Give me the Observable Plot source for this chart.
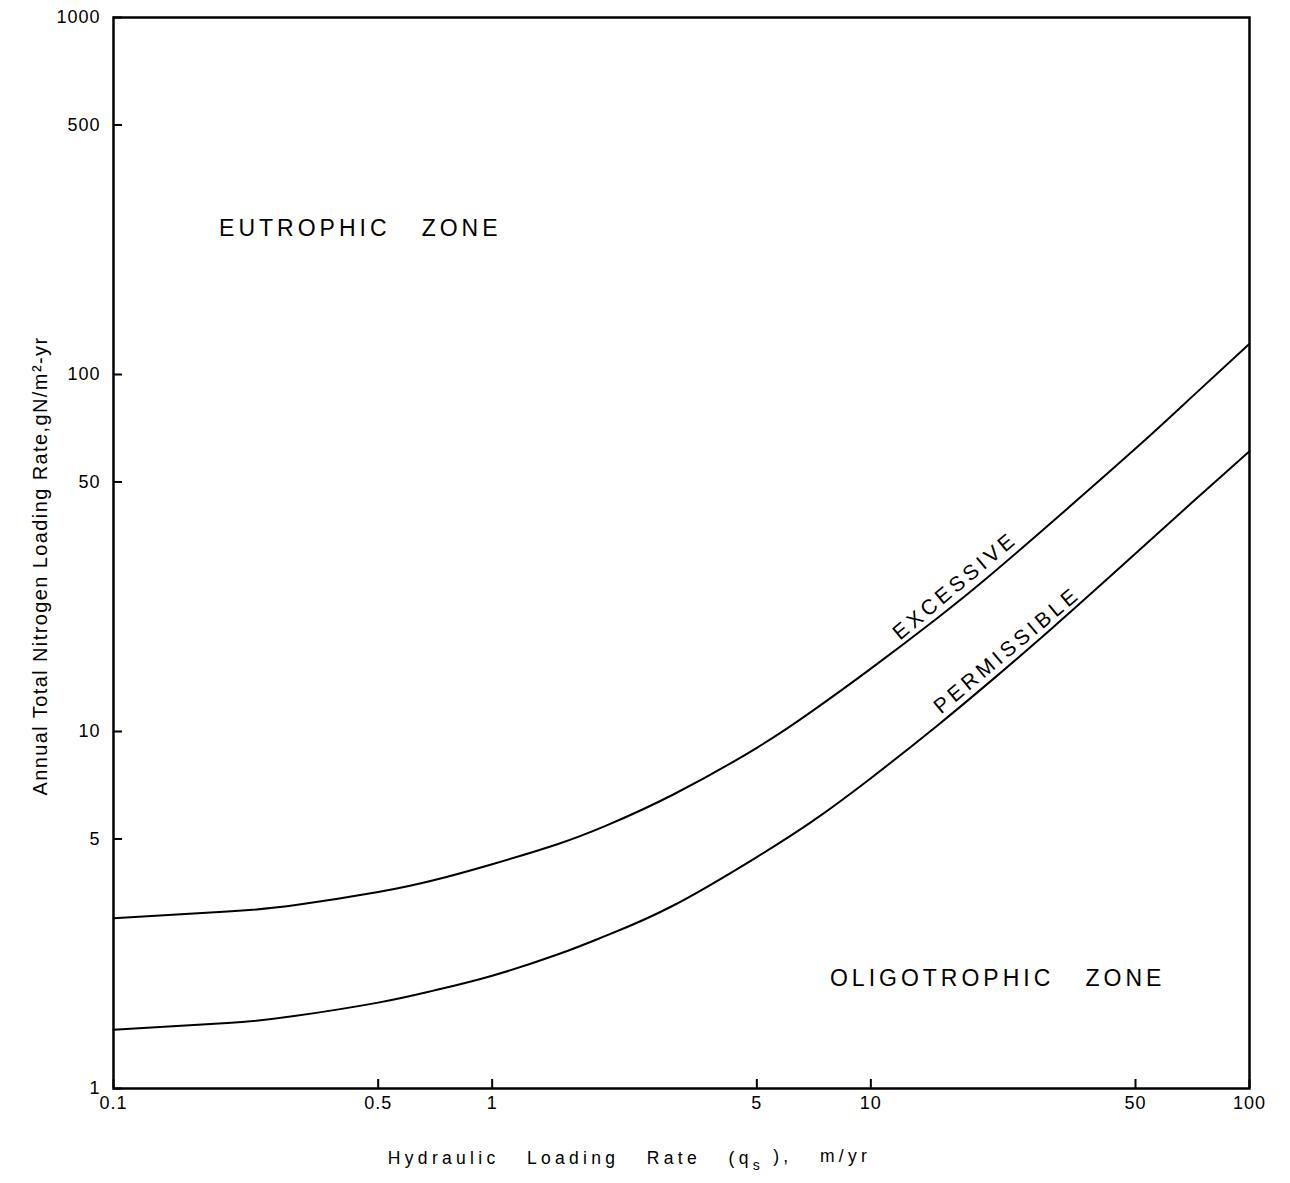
<!DOCTYPE html>
<html><head><meta charset="utf-8">
<script src="https://cdn.jsdelivr.net/npm/d3@7"></script>
<script src="https://cdn.jsdelivr.net/npm/@observablehq/plot@0.6"></script>
<style>
body{margin:0;background:#fff;}
svg text{white-space:pre;}
</style></head><body><div id="chart"></div>
<script>
const qs = [0.1,0.2,0.3,0.5,0.7,1,1.5,2,3,5,7,10,15,20,30,50,70,100];
const excessive = [3.0,3.13,3.26,3.55,3.83,4.25,4.85,5.45,6.65,9.0,11.4,15.0,20.8,26.6,38.5,62,86,122];
const permissible = [1.46,1.525,1.595,1.74,1.88,2.07,2.38,2.68,3.25,4.45,5.6,7.4,10.4,13.4,19.4,31.5,43.5,61];
const xTicks = [0.1,0.5,1,5,10,50,100];
const xTickLabels = ["0.1","0.5","1","5","10","50","100"];
const yTicks = [1,5,10,50,100,500,1000];
const yTickLabels = ["1","5","10","50","100","500","1000"];
const curveLabels = ["EXCESSIVE","PERMISSIBLE"];
const curveLabelQs = [16.7, 22.9];
const curveLabelLoad = [25.6, 16.9];
const zoneLabels = ["EUTROPHIC   ZONE","OLIGOTROPHIC   ZONE"];
const zoneLabelQs = [0.19, 7.8];
const zoneLabelLoad = [256, 2.03];
const xTitle = "Hydraulic   Loading   Rate   (q";
const xTitleSub = "s";
const xTitleEnd = " ),   m/yr";
const yTitle = "Annual Total Nitrogen Loading Rate,gN/m²-yr";

const rows = [];
qs.forEach((q,i)=>{
  rows.push({series:"Excessive", q, load: excessive[i]});
  rows.push({series:"Permissible", q, load: permissible[i]});
});
const curveLab = curveLabels.map((t,i)=>({t, q: curveLabelQs[i], load: curveLabelLoad[i]}));
const zoneLab = zoneLabels.map((t,i)=>({t, q: zoneLabelQs[i], load: zoneLabelLoad[i]}));

const chart = Plot.plot({
  width: 1290, height: 1183,
  marginLeft: 113, marginRight: 41, marginTop: 17, marginBottom: 95,
  style: {fontFamily: "'Liberation Sans', Arial, sans-serif", background: "#fff", color: "#000"},
  x: {type: "log", domain: [0.1, 100]},
  y: {type: "log", domain: [1, 1000]},
  marks: [
    Plot.axisX({ticks: xTicks, tickFormat: () => "", tickSize: -9, strokeWidth: 2, label: null}),
    Plot.axisY({ticks: yTicks, tickFormat: () => "", tickSize: -9, strokeWidth: 2, label: null}),
    Plot.text(xTicks, {x: d => d, text: (d, i) => xTickLabels[i], frameAnchor: "bottom", dy: 20, fontSize: 18, fill: "#000"}),
    Plot.text(yTicks, {y: d => d, text: (d, i) => yTickLabels[i], frameAnchor: "left", dx: -13, textAnchor: "end", fontSize: 18, fill: "#000"}),
    Plot.line(rows, {x: "q", y: "load", z: "series", stroke: "#000", strokeWidth: 2, curve: "natural"}),
    Plot.text(curveLab, {x: "q", y: "load", text: "t", rotate: -40, fontSize: 21, textAnchor: "middle", fill: "#000"}),
    Plot.text(zoneLab, {x: "q", y: "load", text: "t", fontSize: 23, textAnchor: "start", fill: "#000"}),
    Plot.text([xTitle], {frameAnchor: "bottom", dy: 75, dx: -52, text: d => d, fontSize: 17.5, textAnchor: "middle", fill: "#000"}),
    Plot.text([yTitle], {frameAnchor: "left", dx: -73, dy: 13, rotate: -90, text: d => d, fontSize: 20, textAnchor: "middle", fill: "#000"}),
    Plot.frame({stroke: "#000", strokeWidth: 2.5})
  ]
});
document.getElementById("chart").append(chart);

const sel = d3.select(chart);
sel.selectAll("text").each(function(){
  const t = this.textContent;
  const s = d3.select(this);
  if (t === xTitle) {
    s.text(null).style("letter-spacing", "4.3px");
    s.append("tspan").text(xTitle);
    s.append("tspan").attr("dy", "0.45em").attr("font-size", 14).text(xTitleSub);
    s.append("tspan").attr("dy", "-0.45em").text(xTitleEnd);
  } else if (curveLabels.includes(t)) {
    s.style("letter-spacing", "4px");
  } else if (zoneLabels.includes(t)) {
    s.style("letter-spacing", "4px");
  } else if (t === yTitle) {
    s.style("letter-spacing", "1.4px");
  } else if (xTickLabels.includes(t) || yTickLabels.includes(t)) {
    s.style("letter-spacing", "1px");
  }
});
</script></body></html>
